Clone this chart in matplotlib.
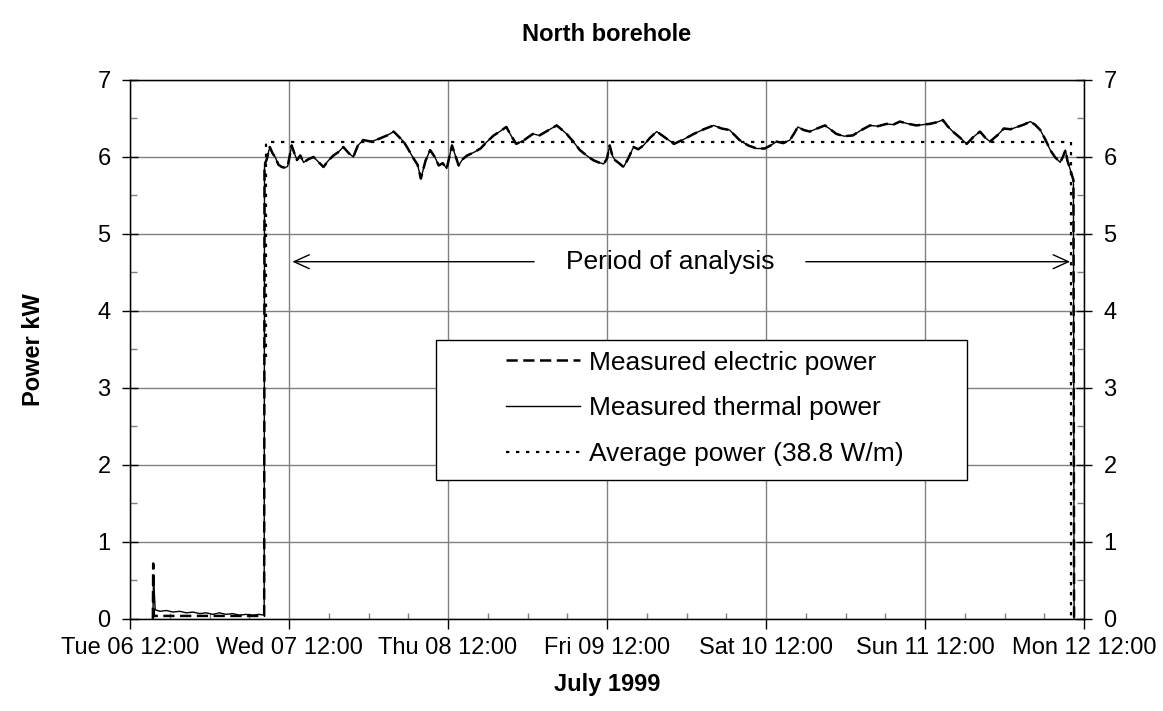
import datetime as dt
import numpy as np
import matplotlib
matplotlib.use("Agg")
import matplotlib.pyplot as plt
import matplotlib.dates as mdates
from matplotlib.patches import Rectangle

plt.rcParams['font.family'] = ['Liberation Sans', 'DejaVu Sans']

# hours counted from Tue 06 July 1999 12:00
start = dt.datetime(1999, 7, 6, 12, 0)

# --- before the test: heat pump idle ---
pre_h = [3.45, 3.55, 3.8, 4.5, 5.5, 6.5, 7.5, 8.5, 9.5, 10.5, 11.5, 12.5,
         13.5, 14.5, 15.5, 16.5, 17.5, 18.5, 19.5, 20.25]
pre_thermal_kw = [0.0, 0.55, 0.12, 0.10, 0.11, 0.09, 0.10, 0.08, 0.09, 0.07,
                  0.08, 0.06, 0.08, 0.06, 0.07, 0.05, 0.06, 0.05, 0.06, 0.05]
pre_elec_h = [3.45, 3.5, 3.6, 20.25]
pre_elec_kw = [0.0, 0.72, 0.04, 0.04]

# --- test period ---
run_h = [20.3, 20.6, 21.1, 21.5, 21.9, 22.4, 22.9, 23.4, 23.8, 24.4, 24.8, 25.2,
         25.7, 26.2, 26.9, 27.7, 28.4, 29.2, 29.9, 30.7, 31.4, 32.2, 33.0, 33.7,
         34.4, 35.2, 36.4, 37.7, 38.8, 39.8, 40.5, 41.3, 42.0, 42.8, 43.4, 43.9,
         44.6, 45.3, 46.0, 46.6, 47.2, 47.8, 48.6, 49.1, 49.6, 50.2, 50.9, 51.9,
         52.9, 53.9, 54.9, 55.8, 56.8, 57.5, 58.3, 59.5, 60.8, 61.8, 62.8, 63.6,
         64.4, 65.1, 65.9, 66.9, 67.9, 68.9, 69.9, 70.7, 71.5, 72.0, 72.4, 72.8,
         73.2, 73.8, 74.5, 75.2, 76.0, 76.7, 77.5, 78.5, 79.5, 80.8, 82.1, 83.6,
         85.1, 86.6, 88.1, 89.3, 90.5, 91.3, 92.0, 93.3, 94.6, 95.8, 96.7, 97.6,
         98.6, 99.6, 100.2, 100.8, 101.7, 102.6, 103.7, 104.9, 105.7, 106.6, 107.8, 109.1,
         110.4, 111.7, 112.9, 114.2, 115.2, 116.2, 117.5, 118.7, 119.7, 120.7, 121.7, 122.7,
         123.4, 124.2, 125.3, 126.3, 127.3, 128.3, 129.1, 129.8, 130.9, 131.9, 132.9, 133.9,
         134.9, 135.9, 136.6, 137.4, 138.2, 138.9, 139.6, 140.4, 140.8, 141.2, 141.5, 141.8,
         142.4, 142.5]
run_kw = [5.90, 5.96, 6.13, 6.05, 6.00, 5.90, 5.87, 5.86, 5.88, 6.15, 6.05, 5.96,
          6.02, 5.93, 5.97, 6.00, 5.94, 5.87, 5.95, 6.02, 6.06, 6.13, 6.05, 6.00,
          6.15, 6.22, 6.20, 6.24, 6.28, 6.33, 6.27, 6.20, 6.10, 5.98, 5.90, 5.72,
          5.95, 6.09, 6.00, 5.89, 5.92, 5.85, 6.15, 6.02, 5.89, 5.97, 6.02, 6.06,
          6.11, 6.20, 6.28, 6.33, 6.39, 6.28, 6.17, 6.22, 6.30, 6.28, 6.33, 6.37,
          6.41, 6.36, 6.30, 6.20, 6.09, 6.02, 5.96, 5.93, 5.91, 5.98, 6.15, 6.02,
          5.96, 5.92, 5.87, 5.98, 6.13, 6.10, 6.15, 6.25, 6.33, 6.25, 6.17, 6.23,
          6.30, 6.36, 6.41, 6.37, 6.35, 6.28, 6.22, 6.15, 6.11, 6.11, 6.15, 6.20,
          6.18, 6.22, 6.30, 6.39, 6.35, 6.33, 6.37, 6.41, 6.36, 6.30, 6.27, 6.28,
          6.35, 6.41, 6.40, 6.43, 6.42, 6.46, 6.43, 6.41, 6.42, 6.43, 6.45, 6.48,
          6.40, 6.33, 6.25, 6.17, 6.26, 6.33, 6.25, 6.20, 6.28, 6.37, 6.36, 6.39,
          6.42, 6.46, 6.42, 6.35, 6.22, 6.09, 6.00, 5.93, 6.00, 6.09, 5.95, 5.87,
          5.70, 0.0]

# average power over the period of analysis
avg_h = [20.5, 20.5, 142.0, 142.0]
avg_kw = [3.4, 6.2, 6.2, 0.0]


def to_dates(hours):
    return [start + dt.timedelta(hours=h) for h in hours]


# electric and thermal curves lie on top of each other during the run
thermal_t = to_dates(pre_h + run_h)
thermal_kw = pre_thermal_kw + run_kw
elec_t = to_dates(pre_elec_h + run_h)
elec_kw = pre_elec_kw + run_kw

fig = plt.figure(figsize=(11.63, 7.11), dpi=100)
ax = fig.add_axes([0.1118, 0.1294, 0.8203, 0.7581])

grid_c = '#808080'
ax.plot(thermal_t, thermal_kw, color='black', lw=1.0, label='Measured thermal power', zorder=3)
ax.plot(elec_t, elec_kw, color='black', lw=1.8, ls=(0, (4.5, 2.2)), label='Measured electric power', zorder=3)
ax.plot(to_dates(avg_h), avg_kw, color='black', lw=1.6, ls=(0, (1.5, 3)), label='Average power (38.8 W/m)', zorder=3)

ax.set_xlim(start, start + dt.timedelta(days=6))
ax.set_ylim(0, 7)
ax.set_yticks(range(8))
ax.set_yticks(np.arange(0.5, 7, 1), minor=True)
ax.xaxis.set_major_locator(mdates.HourLocator(byhour=[12]))
ax.xaxis.set_minor_locator(mdates.HourLocator(byhour=[0, 6, 18]))
ax.xaxis.set_major_formatter(mdates.DateFormatter('%a %d %H:%M'))
ax.grid(True, which='major', color=grid_c, lw=1.0)

ax.tick_params(axis='y', which='major', direction='inout', length=12, width=1, labelsize=17, pad=8)
ax.tick_params(axis='y', which='minor', direction='in', length=5, width=1, color=grid_c)
ax.tick_params(axis='x', which='major', direction='out', length=7, width=1, labelsize=17, pad=6)
ax.tick_params(axis='x', which='minor', direction='in', length=4, width=1, color=grid_c)
for s in ax.spines.values():
    s.set_linewidth(1.0)

ax2 = ax.twinx()
ax2.set_ylim(0, 7)
ax2.set_yticks(range(8))
ax2.set_yticks(np.arange(0.5, 7, 1), minor=True)
ax2.tick_params(axis='y', which='major', direction='inout', length=12, width=1, labelsize=17, pad=8)
ax2.tick_params(axis='y', which='minor', direction='in', length=5, width=1, color=grid_c)

ax.set_title('North borehole', fontsize=17, fontweight='bold', pad=28)
ax.set_xlabel('July 1999', fontsize=17, fontweight='bold', labelpad=10)
ax.set_ylabel('Power kW', fontsize=17, fontweight='bold', labelpad=38)

# period of analysis arrow
y_arrow = 4.64
arrow_kw = dict(arrowstyle='->,head_length=1.1,head_width=0.5', lw=1.0, color='black', shrinkA=0, shrinkB=0)
ax.annotate('', xy=(start + dt.timedelta(hours=24.5), y_arrow), xytext=(start + dt.timedelta(hours=61.0), y_arrow),
            arrowprops=arrow_kw, zorder=4)
ax.annotate('', xy=(start + dt.timedelta(hours=141.9), y_arrow), xytext=(start + dt.timedelta(hours=102.0), y_arrow),
            arrowprops=arrow_kw, zorder=4)
ax.text(start + dt.timedelta(hours=81.5), y_arrow, 'Period of analysis', fontsize=19,
        ha='center', va='center', zorder=4)

# legend box
box = Rectangle((0.321, 0.257), 0.5566, 0.2615, transform=ax.transAxes,
                facecolor='white', edgecolor='black', lw=1.0, zorder=5)
ax.add_patch(box)
handles, labels = ax.get_legend_handles_labels()
order = [1, 0, 2]
leg = ax.legend([handles[i] for i in order], [labels[i] for i in order],
                loc='center left', bbox_to_anchor=(0.369, 0.391), frameon=False,
                fontsize=19, handlelength=2.8, handletextpad=0.35, labelspacing=0.82)
leg.set_zorder(6)

fig.savefig('out.png', dpi=100)
